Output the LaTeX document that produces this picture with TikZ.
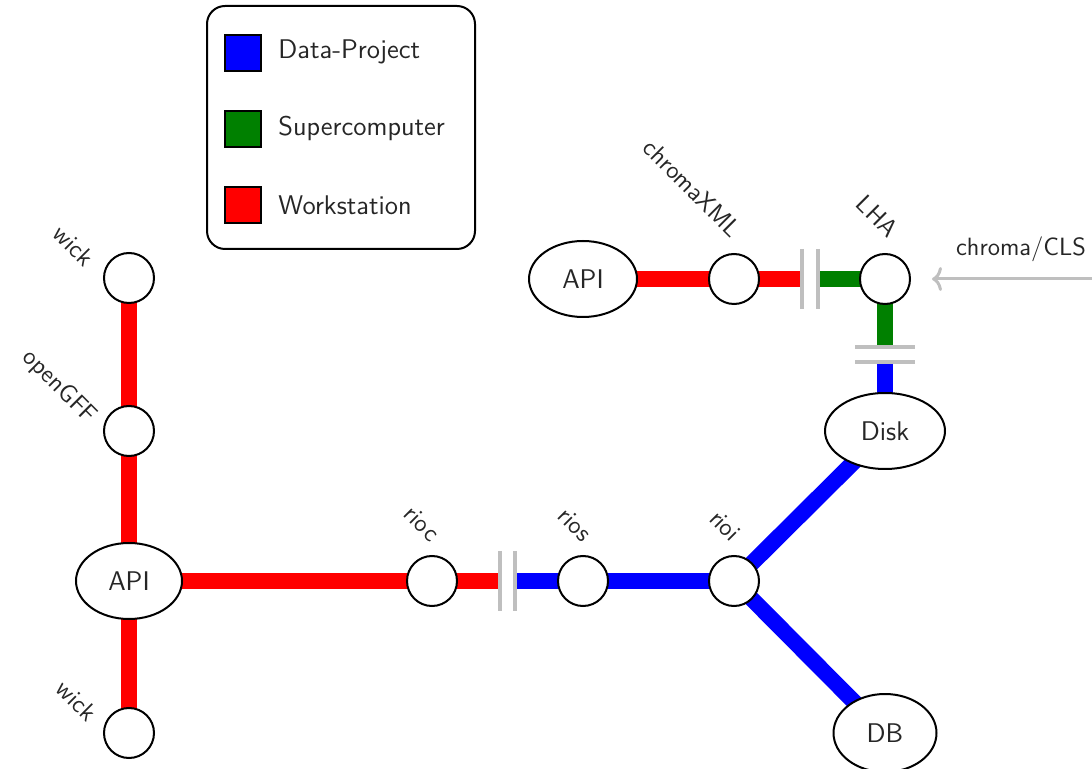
\documentclass[tikz,border=0pt]{standalone}
\usetikzlibrary{backgrounds,arrows.meta,calc,shapes.geometric}
\renewcommand{\familydefault}{\sfdefault}
\begin{document}
\begin{tikzpicture}[x=0.5pt,y=-0.5pt,
  font=\fontsize{12.5}{15}\selectfont,
  station/.style={circle,draw=black,line width=1pt,fill=white,minimum size=25pt,inner sep=0pt},
  hub/.style={ellipse,draw=black,line width=1pt,fill=white,inner sep=0pt,minimum height=38pt,font=\fontsize{13.5}{16}\selectfont,text=black!85},
  lbl/.style={rotate=-45,anchor=base east,inner sep=0pt,text=black!85},
  track/.style={line width=8pt},
  redtrack/.style={track,draw=red},
  bluetrack/.style={track,draw=blue},
  greentrack/.style={track,draw=green!50!black},
  gap/.style={draw=gray!50,line width=2pt},
  swatch/.style={draw=black,line width=1pt,minimum size=18pt,inner sep=0pt},
  legtext/.style={anchor=west,inner sep=0pt,text=black!85,font=\fontsize{13.5}{16}\selectfont},
  feed/.style={draw=gray!50,line width=1.5pt,-{To[length=5pt,width=12pt]}}
]
\useasboundingbox (0,0) rectangle (1092,769);

% legend
\node[draw=black,line width=1pt,rounded corners=9pt,minimum width=134pt,minimum height=121.5pt,inner sep=0pt] (legend) at (341,127.5) {};
\node[swatch,fill=blue] (sw1) at (243,53) {};
\node[swatch,fill=green!50!black] (sw2) at (243,129) {};
\node[swatch,fill=red] (sw3) at (243,205) {};
\node[legtext] (lt1) at (278,52) {Data-Project};
\node[legtext] (lt2) at (278,128) {Supercomputer};
\node[legtext] (lt3) at (278,205) {Workstation};

% stations
\node[station] (wickA) at (129,278) {};
\node[station] (opengff) at (129,431) {};
\node[hub,minimum width=53pt] (apiL) at (129,581) {API};
\node[station] (wickB) at (129,733) {};
\node[station] (rioc) at (432,581) {};
\node[station] (rios) at (583,581) {};
\node[station] (rioi) at (734,581) {};
\node[hub,minimum width=60pt] (disk) at (885,431) {Disk};
\node[hub,minimum width=51.5pt,minimum height=39pt] (db) at (885,733) {DB};
\node[hub,minimum width=54pt] (apiT) at (583,279) {API};
\node[station] (chroma) at (734,279) {};
\node[station] (lha) at (885,279) {};

% break coordinates
\coordinate (b1l) at (500,581);
\coordinate (b1r) at (515,581);
\coordinate (b2l) at (801,279);
\coordinate (b2r) at (819,279);
\coordinate (b3t) at (885,346);
\coordinate (b3b) at (885,363);

\begin{pgfonlayer}{background}
\draw[redtrack] (wickA.center) -- (opengff.center) -- (apiL.center) -- (wickB.center);
\draw[redtrack] (apiL.center) -- (rioc.center) -- (b1l);
\draw[bluetrack] (b1r) -- (rios.center) -- (rioi.center);
\draw[bluetrack] (rioi.center) -- (disk.center);
\draw[bluetrack] (rioi.center) -- (db.center);
\draw[redtrack] (apiT.center) -- (chroma.center) -- (b2l);
\draw[greentrack] (b2r) -- (lha.center) -- (b3t);
\draw[bluetrack] (b3b) -- (disk.center);
\end{pgfonlayer}

% gap bars
\draw[gap] ($(b1l)+(0,-30)$) -- ($(b1l)+(0,30)$);
\draw[gap] ($(b1r)+(0,-30)$) -- ($(b1r)+(0,30)$);
\draw[gap] ($(b2l)+(1,-30)$) -- ($(b2l)+(1,30)$);
\draw[gap] ($(b2r)+(-1,-30)$) -- ($(b2r)+(-1,30)$);
\draw[gap] ($(b3t)+(-30,1)$) -- ($(b3t)+(30,1)$);
\draw[gap] ($(b3b)+(-30,-1)$) -- ($(b3b)+(30,-1)$);

% labels
\node[lbl] (lwickA) at ($(wickA)+(-45,-10)$) {wick};
\node[lbl] (lopengff) at ($(opengff)+(-41,-6)$) {openGFF};
\node[lbl] (lwickB) at ($(wickB)+(-42,-10)$) {wick};
\node[lbl] (lrioc) at ($(rioc)+(-2,-38)$) {rioc};
\node[lbl] (lrios) at ($(rios)+(-1,-38)$) {rios};
\node[lbl] (lrioi) at ($(rioi)+(-3,-38)$) {rioi};
\node[lbl] (lchroma) at ($(chroma)+(-3,-40)$) {chromaXML};
\node[lbl] (llha) at ($(lha)+(3,-40)$) {LHA};

% feed arrow
\coordinate (cls) at (1100,279);
\draw[feed,shorten >=10.5pt] (cls) -- (lha);
\node[anchor=base,inner sep=0pt,text=black!85] (lcls) at (1021,256) {chroma/CLS};
\end{tikzpicture}
\end{document}
